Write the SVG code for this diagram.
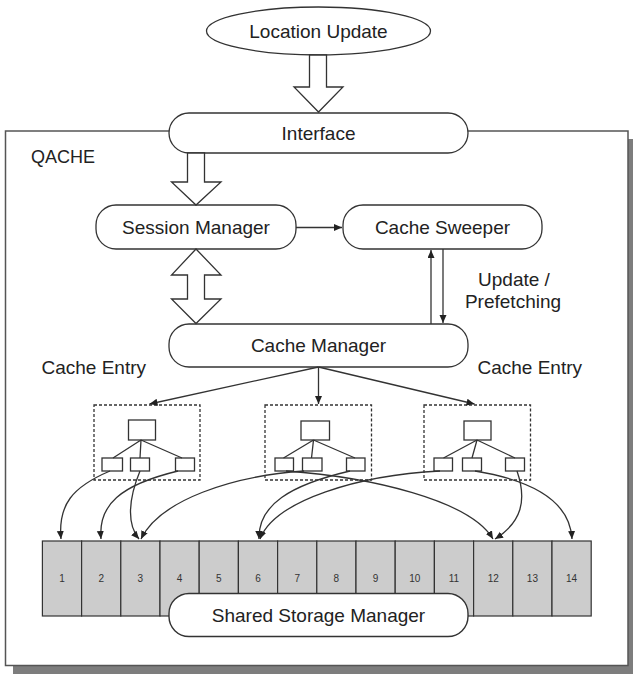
<svg xmlns="http://www.w3.org/2000/svg" width="633" height="675" viewBox="0 0 633 675">
<style>
.t{font-family:"Liberation Sans",Arial,sans-serif;font-size:19px;fill:#222;}
.n{font-family:"Liberation Sans",Arial,sans-serif;font-size:10px;fill:#333;text-anchor:middle;}
.box{fill:#fff;stroke:#333;stroke-width:1.3;}
.ln{fill:none;stroke:#333;stroke-width:1.3;}
.hol{fill:#fff;stroke:#333;stroke-width:1.3;stroke-linejoin:miter;}
.dash{fill:none;stroke:#333;stroke-width:1.3;stroke-dasharray:3,2;}
.cell{fill:#cccccc;stroke:#333;stroke-width:1.2;}
.sm{fill:#fff;stroke:#333;stroke-width:1.4;}
.mid{text-anchor:middle;}
</style>
<defs>
<marker id="ah" markerUnits="userSpaceOnUse" markerWidth="9" markerHeight="8" refX="8" refY="3.5" orient="auto">
<path d="M0,0 L8,3.5 L0,7 z" fill="#222"/>
</marker>
</defs>

<!-- frame with shadow -->
<rect x="13" y="139" width="620" height="535" fill="#7d7d7d"/>
<rect id="qache" x="5.5" y="131" width="622.5" height="534.5" fill="#fff" stroke="#555" stroke-width="1.5"/>
<text class="t" x="31" y="163" style="font-size:18px">QACHE</text>

<g id="location-update">
<ellipse cx="318.5" cy="31" rx="112" ry="24" class="box"/>
<text class="t mid" x="318.5" y="38">Location Update</text>
</g>

<g id="interface">
<rect x="169" y="113" width="299" height="40" rx="20" class="box"/>
<text class="t mid" x="318.5" y="139.5">Interface</text>
</g>

<g id="session-manager">
<rect x="96" y="205" width="200" height="44" rx="20" class="box"/>
<text class="t mid" x="196" y="233.5">Session Manager</text>
</g>

<g id="cache-sweeper">
<rect x="343" y="205" width="199" height="44" rx="20" class="box"/>
<text class="t mid" x="442.5" y="233.5">Cache Sweeper</text>
</g>

<g id="cache-manager">
<rect x="169" y="324" width="299" height="43" rx="20" class="box"/>
<text class="t mid" x="318.5" y="352">Cache Manager</text>
</g>

<text class="t" x="41.5" y="374">Cache Entry</text>
<text class="t" x="477.5" y="374">Cache Entry</text>
<text class="t mid" x="514" y="286">Update /</text>
<text class="t mid" x="513" y="308">Prefetching</text>

<g id="cache-entry-1">
<rect x="94" y="405" width="106" height="75" class="dash"/>
<rect x="128.5" y="420" width="27" height="20" class="box"/>
<rect x="102" y="458" width="20.5" height="13" class="box"/>
<rect x="130.5" y="458" width="19" height="13" class="box"/>
<rect x="175.5" y="458" width="19" height="13" class="box"/>
<path d="M141,440 L113,458 M141,440 L140,458 M141,440 L182,458" class="ln"/>
</g>

<g id="cache-entry-2">
<rect x="265" y="405" width="106.5" height="75" class="dash"/>
<rect x="301" y="421" width="28.5" height="19" class="box"/>
<rect x="275" y="458" width="18.5" height="13" class="box"/>
<rect x="302.5" y="458" width="19.5" height="13" class="box"/>
<rect x="346.5" y="458" width="18.5" height="13" class="box"/>
<path d="M313.5,440 L283.5,458 M313.5,440 L311.5,458 M313.5,440 L355,458" class="ln"/>
</g>

<g id="cache-entry-3">
<rect x="424" y="405" width="106.5" height="75" class="dash"/>
<rect x="464" y="421" width="27" height="19" class="box"/>
<rect x="434" y="458" width="18.5" height="13" class="box"/>
<rect x="462.5" y="458" width="19" height="13" class="box"/>
<rect x="505.5" y="458" width="19" height="13" class="box"/>
<path d="M477,440 L443.5,458 M477,440 L472,458 M477,440 L515,458" class="ln"/>
</g>

<g id="storage">
<rect class="cell" x="42.4" y="541" width="39.2" height="75"/>
<rect class="cell" x="81.6" y="541" width="39.2" height="75"/>
<rect class="cell" x="120.8" y="541" width="39.2" height="75"/>
<rect class="cell" x="160" y="541" width="39.2" height="75"/>
<rect class="cell" x="199.2" y="541" width="39.2" height="75"/>
<rect class="cell" x="238.4" y="541" width="39.2" height="75"/>
<rect class="cell" x="277.6" y="541" width="39.2" height="75"/>
<rect class="cell" x="316.8" y="541" width="39.2" height="75"/>
<rect class="cell" x="356" y="541" width="39.2" height="75"/>
<rect class="cell" x="395.2" y="541" width="39.2" height="75"/>
<rect class="cell" x="434.4" y="541" width="39.2" height="75"/>
<rect class="cell" x="473.6" y="541" width="39.2" height="75"/>
<rect class="cell" x="512.8" y="541" width="39.2" height="75"/>
<rect class="cell" x="552" y="541" width="39.2" height="75"/>
<text class="n" x="62" y="581.5">1</text>
<text class="n" x="101.2" y="581.5">2</text>
<text class="n" x="140.4" y="581.5">3</text>
<text class="n" x="179.6" y="581.5">4</text>
<text class="n" x="218.8" y="581.5">5</text>
<text class="n" x="258" y="581.5">6</text>
<text class="n" x="297.2" y="581.5">7</text>
<text class="n" x="336.4" y="581.5">8</text>
<text class="n" x="375.6" y="581.5">9</text>
<text class="n" x="414.8" y="581.5">10</text>
<text class="n" x="454" y="581.5">11</text>
<text class="n" x="493.2" y="581.5">12</text>
<text class="n" x="532.4" y="581.5">13</text>
<text class="n" x="571.6" y="581.5">14</text>
</g>

<g id="shared-storage-manager">
<rect x="169" y="593.5" width="299" height="43" rx="20" class="sm"/>
<text class="t mid" x="318.5" y="621.5">Shared Storage Manager</text>
</g>

<g id="connectors">
<!-- hollow arrows -->
<path class="hol" d="M309.5,55 L326.5,55 L326.5,87 L343,87 L318.5,112 L294,87 L309.5,87 Z"/>
<path class="hol" d="M187.5,153 L204.5,153 L204.5,182 L221,182 L196,205 L171.5,182 L187.5,182 Z"/>
<path class="hol" d="M196,249 L221,275 L204.5,275 L204.5,299 L221,299 L196,323.5 L171.5,299 L187.5,299 L187.5,275 L171.5,275 Z"/>
<!-- thin arrows -->
<line class="ln" x1="296" y1="227.5" x2="342" y2="227.5" marker-end="url(#ah)"/>
<line class="ln" x1="431" y1="324" x2="431" y2="250" marker-end="url(#ah)"/>
<line class="ln" x1="443" y1="249" x2="443" y2="323" marker-end="url(#ah)"/>
<line class="ln" x1="318.5" y1="367" x2="149.5" y2="404" marker-end="url(#ah)"/>
<line class="ln" x1="318.5" y1="367" x2="318.5" y2="404" marker-end="url(#ah)"/>
<line class="ln" x1="318.5" y1="367" x2="474.5" y2="404" marker-end="url(#ah)"/>
<!-- curved arrows to storage -->
<path class="ln" d="M110,471 C72,487 58,505 61,539" marker-end="url(#ah)"/>
<path class="ln" d="M140,471 C128,500 127,525 139,539" marker-end="url(#ah)"/>
<path class="ln" d="M178,471 C120,485 98,505 101,539" marker-end="url(#ah)"/>
<path class="ln" d="M304,471 C232,476 160,500 141,539" marker-end="url(#ah)"/>
<path class="ln" d="M286,471 C370,477 470,500 493,539" marker-end="url(#ah)"/>
<path class="ln" d="M350,471 C290,485 258,505 259,539" marker-end="url(#ah)"/>
<path class="ln" d="M440,471 C360,475 275,500 260,539" marker-end="url(#ah)"/>
<path class="ln" d="M475,471 C530,480 570,500 572,539" marker-end="url(#ah)"/>
<path class="ln" d="M517,471 C527,500 522,522 495,539" marker-end="url(#ah)"/>
</g>
</svg>
